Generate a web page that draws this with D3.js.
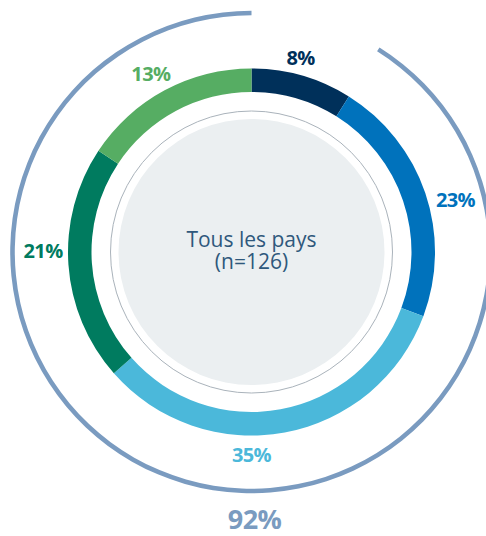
<!DOCTYPE html>
<html>
<head>
<meta charset="utf-8">
<script src="https://cdn.jsdelivr.net/npm/d3@7"></script>
<style>
  html, body { margin: 0; padding: 0; background: #ffffff; }
  svg { display: block; }
</style>
</head>
<body>
<svg id="chart" width="486" height="536"></svg>
<script>
// ---- data ----
const categories = ["A", "B", "C", "D", "E"];
// printed percentages
const values = [8, 23, 35, 21, 13];
// arc proportions as drawn in the picture
const shares = [8.9, 21.8, 32.8, 20.8, 15.7];
const totalLabel = "92%";
const centerLines = ["Tous les pays", "(n=126)"];

// ---- styles / layout ----
const colors = ["#00305a", "#0072bc", "#4bb8da", "#007b5f", "#56ad63"];
const labelAngleDeg = [14.2, 75.7, 180, 270.3, 330.5];
const labelRadius = [200, 210.5, 203, 208.5, 204.4];
const cx = 251.5, cy = 252;
const rOuter = 183.5, rInner = 160;
const rRing = 141, rFill = 133;
const rTotal = 239;

const svg = d3.select("#chart");
const g = svg.append("g").attr("transform", `translate(${cx},${cy})`);

const pie = d3.pie().sort(null).value(d => d);
const arcsDrawn = pie(shares);

const arc = d3.arc().innerRadius(rInner).outerRadius(rOuter);

g.selectAll("path.seg")
  .data(arcsDrawn)
  .join("path")
  .attr("class", "seg")
  .attr("d", arc)
  .attr("fill", (d, i) => colors[i]);

// outer arc covering everything except the first segment
const totalArc = d3.arc()
  .innerRadius(rTotal - 2.3)
  .outerRadius(rTotal + 2.3)
  .startAngle(arcsDrawn[0].endAngle)
  .endAngle(2 * Math.PI);
g.append("path").attr("d", totalArc()).attr("fill", "#7a9bc0");

// inner circles
g.append("circle").attr("r", rRing).attr("fill", "none")
  .attr("stroke", "#aab3bb").attr("stroke-width", 1);
g.append("circle").attr("r", rFill).attr("fill", "#ebeff1");

// center text (one text element, two lines)
g.append("text")
  .attr("text-anchor", "middle")
  .attr("font-family", "'Open Sans', sans-serif")
  .attr("font-size", 21)
  .attr("fill", "#2f587c")
  .attr("y", -5.5)
  .selectAll("tspan")
  .data(centerLines)
  .join("tspan")
  .attr("x", 0)
  .attr("dy", (d, i) => i === 0 ? 0 : 22.5)
  .text(d => d);

// percentage labels
g.selectAll("text.lbl")
  .data(values)
  .join("text")
  .attr("class", "lbl")
  .attr("text-anchor", "middle")
  .attr("dy", "0.36em")
  .attr("font-family", "'Open Sans', sans-serif")
  .attr("font-weight", 700)
  .attr("font-size", 20)
  .attr("letter-spacing", -0.6)
  .attr("fill", (d, i) => colors[i])
  .attr("x", (d, i) => labelRadius[i] * Math.sin(labelAngleDeg[i] * Math.PI / 180))
  .attr("y", (d, i) => -labelRadius[i] * Math.cos(labelAngleDeg[i] * Math.PI / 180))
  .text(d => d + "%");

// total label
g.append("text")
  .attr("text-anchor", "middle")
  .attr("x", 3)
  .attr("y", rTotal + 38)
  .attr("font-family", "'Open Sans', sans-serif")
  .attr("font-weight", 700)
  .attr("font-size", 27)
  .attr("letter-spacing", -0.6)
  .attr("fill", "#7a9bc0")
  .text(totalLabel);
</script>
</body>
</html>
